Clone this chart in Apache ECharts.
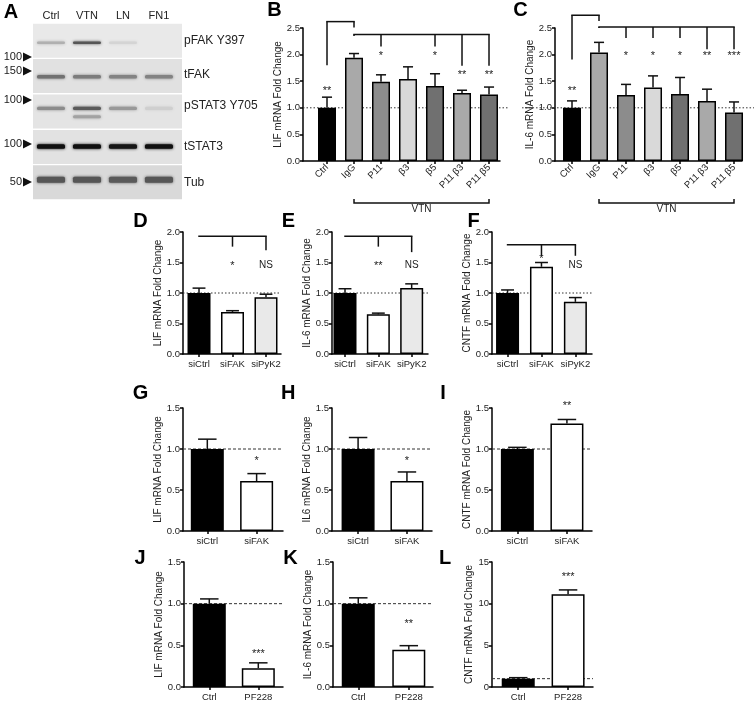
<!DOCTYPE html>
<html><head><meta charset="utf-8">
<script src="https://cdn.jsdelivr.net/npm/echarts@6/dist/echarts.min.js"></script>
<style>html,body{margin:0;padding:0;background:#fff}#c{width:754px;height:704px}</style>
</head><body><div id="c"></div><script>
// ---------------- DATA ----------------
// Panel A (western blot): band darkness 0..1 per lane
const blotLanes = ['Ctrl', 'VTN', 'LN', 'FN1'];
const blotRows = ['pFAK Y397', 'tFAK', 'pSTAT3 Y705', 'tSTAT3', 'Tub'];
const blotMarkers = ['100', '150', '100', '100', '50'];
const pFAKBand = [0.22, 0.62, 0.06, 0.0];
const tFAKBand = [0.5, 0.45, 0.42, 0.42];
const pSTAT3Band = [0.38, 0.6, 0.32, 0.08];
const pSTAT3Lower = [0.0, 0.28, 0.0, 0.0];
const tSTAT3Band = [0.93, 0.93, 0.9, 0.93];
const tubBand = [0.62, 0.62, 0.6, 0.62];

// Panel B
const bCats = ['Ctrl', 'IgG', 'P11', 'β3', 'β5', 'P11 β3', 'P11 β5'];
const bMean = [1.0, 1.94, 1.49, 1.54, 1.41, 1.28, 1.25];
const bSem = [0.20, 0.08, 0.13, 0.23, 0.23, 0.05, 0.14];
const bStars = ['**', '', '*', '', '*', '**', '**'];
// Panel C
const cCats = ['Ctrl', 'IgG', 'P11', 'β3', 'β5', 'P11 β3', 'P11 β5'];
const cMean = [1.0, 2.04, 1.24, 1.38, 1.26, 1.13, 0.91];
const cSem = [0.13, 0.19, 0.20, 0.22, 0.31, 0.22, 0.20];
const cStars = ['**', '', '*', '*', '*', '**', '***'];
// Panels D, E, F
const siCats3 = ['siCtrl', 'siFAK', 'siPyK2'];
const dMean = [1.0, 0.69, 0.93];
const dSem = [0.08, 0.02, 0.05];
const dStars = ['', '*', 'NS'];
const eMean = [1.0, 0.65, 1.08];
const eSem = [0.07, 0.02, 0.07];
const eStars = ['', '**', 'NS'];
const fMean = [1.0, 1.43, 0.855];
const fSem = [0.05, 0.07, 0.07];
const fStars = ['', '*', 'NS'];
// Panels G, H, I
const siCats2 = ['siCtrl', 'siFAK'];
const gMean = [1.0, 0.61];
const gSem = [0.12, 0.09];
const hMean = [1.0, 0.61];
const hSem = [0.14, 0.11];
const iMean = [1.0, 1.31];
const iSem = [0.02, 0.05];
const gStars = ['', '*'];
const hStars = ['', '*'];
const iStars = ['', '**'];
// Panels J, K, L
const pfCats = ['Ctrl', 'PF228'];
const jMean = [1.0, 0.225];
const jSem = [0.057, 0.065];
const kMean = [1.0, 0.446];
const kSem = [0.07, 0.05];
const lMean = [1.0, 11.13];
const lSem = [0.12, 0.52];
const jStars = ['', '***'];
const kStars = ['', '**'];
const lStars = ['', '***'];

// ---------------- LAYOUT ----------------
const FONT = '"Liberation Sans", Arial, Helvetica, sans-serif';
const grayB = ['#000000', '#a9a9a9', '#8c8c8c', '#d9d9d9', '#707070', '#a9a9a9', '#707070'];
const colors3 = ['#000000', '#ffffff', '#e9e9e9'];
const colors2 = ['#000000', '#ffffff'];

const panels = [
  { cats: bCats, mean: bMean, sem: bSem, stars: bStars, colors: grayB, grid: [303, 28, 197, 133], xr: [-0.889, 6.407], yMax: 2.5, yInt: 0.5, barW: 18, rot: 45, yName: 'LIF mRNA Fold Change', dash: [1.5, 2], ref: [-0.889, 6.75],
    starY: [1.37, 0, 2.03, 0, 2.03, 1.67, 1.67],
    brackets: [{ y: 2.62, from: 0, to: 1, legs: [[0, 1.80], [1, 2.51]] }, { y: 2.38, from: 1, to: 6, legs: [[1, 2.35], [2, 2.15], [4, 2.15], [5, 1.79], [6, 1.79]] }],
    group: { text: 'VTN', from: 1, to: 6, off: 42 } },
  { cats: cCats, mean: cMean, sem: cSem, stars: cStars, colors: grayB, grid: [555, 28, 187, 133], xr: [-0.63, 6.296], yMax: 2.5, yInt: 0.5, barW: 18, rot: 45, yName: 'IL-6 mRNA Fold Change', dash: [1.5, 2], ref: [-1.85, 6.75],
    starY: [1.37, 0, 2.03, 2.03, 2.03, 2.03, 2.03],
    brackets: [{ y: 2.74, from: 0, to: 1, legs: [[0, 1.91], [1, 2.63]] }, { y: 2.52, from: 1, to: 6, legs: [[1, 2.50], [2, 2.31], [3, 2.31], [4, 2.31], [5, 2.10], [6, 2.10]] }],
    group: { text: 'VTN', from: 1, to: 6, off: 42 } },
  { cats: siCats3, mean: dMean, sem: dSem, stars: dStars, colors: colors3, grid: [183, 232, 98, 122], xr: [-0.478, 2.448], yMax: 2, yInt: 0.5, barW: 23, yName: 'LIF mRNA Fold Change', dash: [1.5, 2], ref: [-0.478, 2.448],
    starY: [0, 1.49, 1.45], brackets: [{ y: 1.93, from: 0, to: 2, legs: [[1, 1.76], [2, 1.70]] }] },
  { cats: siCats3, mean: eMean, sem: eSem, stars: eStars, colors: colors3, grid: [332, 232, 96, 122], xr: [-0.39, 2.49], yMax: 2, yInt: 0.5, barW: 23, yName: 'IL-6 mRNA Fold Change', dash: [1.5, 2], ref: [-0.39, 2.49],
    starY: [0, 1.49, 1.45], brackets: [{ y: 1.93, from: 0, to: 2, legs: [[1, 1.76], [2, 1.67]] }] },
  { cats: siCats3, mean: fMean, sem: fSem, stars: fStars, colors: colors3, grid: [492, 232, 100, 122], xr: [-0.459, 2.49], yMax: 2, yInt: 0.5, barW: 23, yName: 'CNTF mRNA Fold Change', dash: [1.5, 2], ref: [-0.459, 2.49],
    starY: [0, 1.60, 1.45], brackets: [{ y: 1.79, from: 0, to: 2, legs: [[1, 1.61], [2, 1.61]] }] },
  { cats: siCats2, mean: gMean, sem: gSem, stars: gStars, colors: colors2, grid: [183, 408, 100, 123], xr: [-0.493, 1.535], yMax: 1.5, yInt: 0.5, barW: 33, yName: 'LIF mRNA Fold Change', dash: [3, 2], ref: [-0.493, 1.535], starY: [0, 0.89] },
  { cats: siCats2, mean: hMean, sem: hSem, stars: hStars, colors: colors2, grid: [332, 408, 100, 123], xr: [-0.534, 1.513], yMax: 1.5, yInt: 0.5, barW: 33, yName: 'IL6 mRNA Fold Change', dash: [3, 2], ref: [-0.534, 1.513], starY: [0, 0.89] },
  { cats: siCats2, mean: iMean, sem: iSem, stars: iStars, colors: colors2, grid: [492, 408, 100, 123], xr: [-0.512, 1.506], yMax: 1.5, yInt: 0.5, barW: 33, yName: 'CNTF mRNA Fold Change', dash: [3, 2], ref: [-0.512, 1.506], starY: [0, 1.565] },
  { cats: pfCats, mean: jMean, sem: jSem, stars: jStars, colors: colors2, grid: [184, 562, 99, 125], xr: [-0.516, 1.504], yMax: 1.5, yInt: 0.5, barW: 33, yName: 'LIF mRNA Fold Change', dash: [3, 2], ref: [-0.516, 1.504], starY: [0, 0.434] },
  { cats: pfCats, mean: kMean, sem: kSem, stars: kStars, colors: colors2, grid: [333, 562, 100, 125], xr: [-0.5, 1.479], yMax: 1.5, yInt: 0.5, barW: 33, yName: 'IL-6 mRNA Fold Change', dash: [3, 2], ref: [-0.5, 1.479], starY: [0, 0.787] },
  { cats: pfCats, mean: lMean, sem: lSem, stars: lStars, colors: colors2, grid: [492, 562, 101, 125], xr: [-0.526, 1.5], yMax: 15, yInt: 5, barW: 33, yName: 'CNTF mRNA Fold Change', dash: [3, 2], ref: [-0.526, 1.5], starY: [0, 13.58], intTicks: true },
];

const letters = [['A', 11, 12.5], ['B', 274.5, 10.5], ['C', 520.5, 10.5], ['D', 140.5, 221.5], ['E', 288.5, 221.5], ['F', 473.5, 221.5],
  ['G', 140.5, 393], ['H', 288.3, 393], ['I', 443, 393], ['J', 140, 558], ['K', 290.5, 558], ['L', 445, 558]];

const option = { animation: false, textStyle: { fontFamily: FONT }, grid: [], xAxis: [], yAxis: [], series: [], graphic: [] };
const LS = { stroke: '#111', lineWidth: 1.5 };

panels.forEach((p, k) => {
  const idx = p.cats.map((_, i) => i);
  option.grid.push({ left: p.grid[0], top: p.grid[1], width: p.grid[2], height: p.grid[3] });
  option.xAxis.push({
    type: 'value', gridIndex: k, min: p.xr[0], max: p.xr[1],
    axisLine: { show: true, onZero: false, lineStyle: { color: '#000', width: 1.5 } },
    axisTick: { show: true, customValues: idx, length: 3, lineStyle: { color: '#000', width: 1.5 } },
    axisLabel: { customValues: idx, formatter: v => p.cats[Math.round(v)], fontSize: 9.5, color: '#222', rotate: p.rot || 0, margin: 5, fontFamily: FONT },
    splitLine: { show: false }
  });
  option.yAxis.push({
    type: 'value', gridIndex: k, min: 0, max: p.yMax, interval: p.yInt,
    axisLine: { show: true, onZero: false, lineStyle: { color: '#000', width: 1.5 } },
    axisTick: { show: true, length: 3, lineStyle: { color: '#000', width: 1.5 } },
    axisLabel: { fontSize: 9.5, color: '#222', margin: 3, fontFamily: FONT, formatter: v => p.intTicks ? String(v) : v.toFixed(1) },
    splitLine: { show: false },
    name: p.yName, nameLocation: 'middle', nameGap: p.intTicks ? 16 : 17,
    nameTextStyle: { fontSize: 10, color: '#222', fontFamily: FONT }
  });
  // dotted reference line at 1.0
  option.series.push({
    type: 'custom', xAxisIndex: k, yAxisIndex: k, z: 1, clip: false, silent: true,
    data: [[p.ref[0], 1, p.ref[1]]],
    renderItem: (params, api) => {
      const a = api.coord([api.value(0), api.value(1)]), b = api.coord([api.value(2), api.value(1)]);
      return { type: 'line', shape: { x1: a[0], y1: a[1], x2: b[0], y2: b[1] }, style: { stroke: '#333', lineWidth: 1, lineDash: p.dash } };
    }
  });
  // bars
  option.series.push({
    type: 'bar', xAxisIndex: k, yAxisIndex: k, z: 3, barWidth: p.barW, silent: true,
    data: p.mean.map((v, i) => ({ value: [i, v], itemStyle: { color: p.colors[i] } })),
    itemStyle: { borderColor: '#000', borderWidth: 1.5 }
  });
  // error bars (mean + SEM)
  option.series.push({
    type: 'custom', xAxisIndex: k, yAxisIndex: k, z: 4, clip: false, silent: true,
    data: p.mean.map((v, i) => [i, v, p.sem[i]]),
    renderItem: (params, api) => {
      const lo = api.coord([api.value(0), api.value(1)]);
      const hi = api.coord([api.value(0), api.value(1) + api.value(2)]);
      const hw = p.barW * 0.28;
      return { type: 'group', children: [
        { type: 'line', shape: { x1: lo[0], y1: lo[1], x2: hi[0], y2: hi[1] }, style: LS },
        { type: 'line', shape: { x1: hi[0] - hw, y1: hi[1], x2: hi[0] + hw, y2: hi[1] }, style: LS }
      ] };
    }
  });
  // significance labels
  option.series.push({
    type: 'custom', xAxisIndex: k, yAxisIndex: k, z: 5, clip: false, silent: true,
    data: p.stars.map((s, i) => [i, p.starY[i]]).filter((d, i) => p.stars[i]),
    renderItem: (params, api) => {
      const c = api.coord([api.value(0), api.value(1)]);
      const s = p.stars[api.value(0)];
      const isStar = s.indexOf('*') >= 0;
      return { type: 'text', x: c[0], y: c[1] + (isStar ? 3 : 0),
        style: { text: s, fontSize: isStar ? 11 : 10, fill: '#222', align: 'center', verticalAlign: 'middle', fontFamily: FONT } };
    }
  });
  // brackets
  if (p.brackets) {
    option.series.push({
      type: 'custom', xAxisIndex: k, yAxisIndex: k, z: 5, clip: false, silent: true,
      data: p.brackets.map((b, i) => [b.from, b.y, b.to]),
      renderItem: (params, api) => {
        const b = p.brackets[params.dataIndex];
        const l = api.coord([b.from, b.y]), r = api.coord([b.to, b.y]);
        const ch = [{ type: 'line', shape: { x1: l[0] - 0.75, y1: l[1], x2: r[0] + 0.75, y2: r[1] }, style: LS }];
        b.legs.forEach(([x, yb]) => {
          const t = api.coord([x, b.y]), e = api.coord([x, yb]);
          ch.push({ type: 'line', shape: { x1: t[0], y1: t[1], x2: e[0], y2: e[1] }, style: LS });
        });
        return { type: 'group', children: ch };
      }
    });
  }
  if (p.group) {
    const g = p.group;
    option.series.push({
      type: 'custom', xAxisIndex: k, yAxisIndex: k, z: 5, clip: false, silent: true,
      data: [[g.from, 0, g.to]],
      renderItem: (params, api) => {
        const a = api.coord([g.from, 0]), b = api.coord([g.to, 0]);
        const y = a[1] + g.off;
        return { type: 'group', children: [
          { type: 'polyline', shape: { points: [[a[0], y - 4], [a[0], y], [b[0], y], [b[0], y - 4]] }, style: { stroke: '#111', lineWidth: 1.5, fill: null } },
          { type: 'text', x: (a[0] + b[0]) / 2, y: y + 1, style: { text: g.text, fontSize: 10, fill: '#222', align: 'center', verticalAlign: 'top', fontFamily: FONT } }
        ] };
      }
    });
  }
});

// ---------- Panel A: western blot on a hidden grid ----------
const bk = panels.length;
option.grid.push({ left: 33, top: 23, width: 149, height: 177 });
option.xAxis.push({ type: 'value', gridIndex: bk, min: -0.5, max: 3.64, show: true, position: 'top',
  axisLine: { show: false }, axisTick: { show: false }, splitLine: { show: false },
  axisLabel: { customValues: [0, 1, 2, 3], formatter: v => blotLanes[Math.round(v)], fontSize: 11, color: '#222', margin: 2, fontFamily: FONT } });
option.yAxis.push({ type: 'value', gridIndex: bk, min: 0, max: 5, inverse: true, show: false });
const stripColors = ['#e9e9e9', '#e1e1e1', '#e4e4e4', '#e2e2e2', '#d9d9d9'];
option.series.push({
  type: 'custom', xAxisIndex: bk, yAxisIndex: bk, z: 1, silent: true, clip: false,
  data: blotRows.map((r, i) => [-0.5, i, 3.64]),
  renderItem: (params, api) => {
    const a = api.coord([api.value(0), api.value(1)]), b = api.coord([api.value(2), api.value(1) + 1]);
    return { type: 'rect', shape: { x: a[0], y: a[1] + 0.7, width: b[0] - a[0], height: b[1] - a[1] - 1.4 }, style: { fill: stripColors[params.dataIndex] } };
  }
});
const bandSets = [[pFAKBand, 0, 0.556, 2.4], [tFAKBand, 1, 0.52, 3.5], [pSTAT3Band, 2, 0.41, 3.2], [pSTAT3Lower, 2, 0.647, 3], [tSTAT3Band, 3, 0.49, 4.5], [tubBand, 4, 0.43, 6]];
const bandData = [];
bandSets.forEach(([arr, row, pos, h]) => arr.forEach((d, l) => { if (d > 0) bandData.push([l, row + pos, d, h]); }));
option.series.push({
  type: 'custom', xAxisIndex: bk, yAxisIndex: bk, z: 2, silent: true, clip: false,
  data: bandData,
  renderItem: (params, api) => {
    const c = api.coord([api.value(0), api.value(1)]);
    const d = api.value(2), h = api.value(3);
    const g = Math.round(225 * (1 - d));
    const col = 'rgb(' + g + ',' + g + ',' + g + ')';
    return { type: 'rect', shape: { x: c[0] - 14, y: c[1] - h / 2, width: 28, height: h, r: 1.5 }, style: { fill: col, shadowBlur: 3, shadowColor: col } };
  }
});

// blot row labels and markers
const rowLabelY = [42, 76, 107, 148, 184];
blotRows.forEach((t, i) => option.graphic.push({ type: 'text', left: 184, top: rowLabelY[i] - 7, style: { text: t, fontSize: 12, fill: '#222', fontFamily: FONT } }));
const markerY = [57, 71, 100, 144, 182];
blotMarkers.forEach((t, i) => {
  option.graphic.push({ type: 'text', x: 22, y: markerY[i], style: { text: t, fontSize: 11, fill: '#222', align: 'right', verticalAlign: 'middle', fontFamily: FONT } });
  option.graphic.push({ type: 'polygon', shape: { points: [[23, markerY[i] - 4.5], [32, markerY[i]], [23, markerY[i] + 4.5]] }, style: { fill: '#111' } });
});
letters.forEach(([t, x, y]) => option.graphic.push({ type: 'text', x: x, y: y, style: { text: t, fontSize: 20, fontWeight: 'bold', fill: '#000', align: 'center', verticalAlign: 'middle', fontFamily: FONT } }));

const chart = echarts.init(document.getElementById('c'), null, { renderer: 'canvas' });
chart.setOption(option);
</script></body></html>
